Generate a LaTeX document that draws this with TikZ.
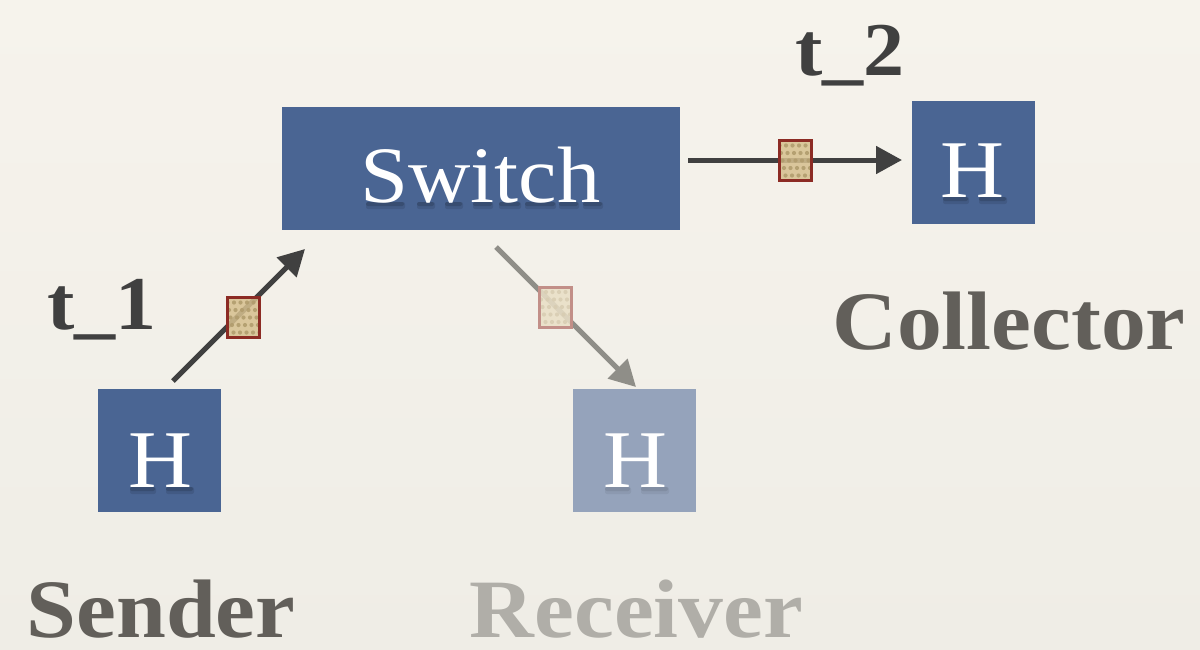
\documentclass[tikz,border=0pt]{standalone}
\usepackage{fontspec}
\setmainfont[FakeStretch=1.08]{Liberation Serif}
\usetikzlibrary{arrows.meta}
\definecolor{bgtop}{HTML}{F6F3EC}
\definecolor{bgbot}{HTML}{EFEDE6}
\definecolor{boxblue}{HTML}{4A6593}
\definecolor{boxfade}{HTML}{95A3BB}
\definecolor{ink}{HTML}{404040}
\definecolor{inkfade}{HTML}{8F8E88}
\definecolor{labelgrey}{HTML}{625F5A}
\definecolor{labelfade}{HTML}{B0AEA8}
\definecolor{pktfill}{HTML}{D6C08F}
\definecolor{pktdot}{HTML}{B09B6C}
\definecolor{pktline}{HTML}{8C2B24}
\definecolor{pktfillf}{HTML}{E9DFC6}
\definecolor{pktdotf}{HTML}{D8CDB2}
\definecolor{pktlinef}{HTML}{C28F88}
\tikzset{
  x=1pt,y=-1pt,
  hostbox/.style={draw=none,fill=#1,inner sep=0pt,outer sep=0pt},
  hostbox/.default=boxblue,
  boxtext/.style={anchor=base,inner sep=0pt,text=white,font=\fontsize{82}{82}\selectfont},
  softshadow/.style={fill=black,opacity=#1,rounded corners=2pt},
  softshadow/.default=.13,
  rolelabel/.style={anchor=base,inner sep=0pt,font=\fontsize{83}{83}\selectfont\bfseries,text=labelgrey},
  timelabel/.style={anchor=base,inner sep=0pt,font=\fontsize{76}{76}\selectfont\bfseries,text=ink},
  flow/.style={draw=ink,line width=5pt,-{Triangle[length=26pt,width=27pt]}},
  flowfade/.style={flow,draw=inkfade},
  packet/.style n args={3}{draw=#3,line width=3pt,fill=#1,fill opacity=.86,
    minimum width=32pt,minimum height=40pt,inner sep=0pt,outer sep=0pt,
    path picture={
      \foreach \i in {-2,-1,0,1,2}\foreach \j in {-2,...,2}{
        \fill[#2] ([shift={(\i*6.5+\j*1.5,\j*7.5)}]path picture bounding box.center) circle (2.1pt);}
    }},
}
\begin{document}
\begin{tikzpicture}
\useasboundingbox (0,0) rectangle (1200,649);
\shade[top color=bgtop,bottom color=bgbot] (0,0) rectangle (1200,649);
% hosts and switch
\node[hostbox,minimum width=398pt,minimum height=123pt] (switch) at (481,168.5) {};
\node[hostbox,minimum width=123pt,minimum height=123pt] (sender) at (159.5,450.5) {};
\node[hostbox=boxfade,minimum width=123pt,minimum height=123pt] (receiver) at (634.5,450.5) {};
\node[hostbox,minimum width=123pt,minimum height=123pt] (collector) at (973.5,162.5) {};
% soft shadows under the letters
\foreach \a/\b in {365/402,416/432,444/460,472/490,498/518,524/553,558/576,582/600}{
  \fill[softshadow=.10] (\a+1,202) rectangle (\b+3,209);
  \fill[softshadow=.14] (\a+1,202) rectangle (\b+2,206);
}
\foreach \a/\b in {942/966,978/1004}{
  \fill[softshadow=.10] (\a+1,197) rectangle (\b+3,204);
  \fill[softshadow=.14] (\a+1,197) rectangle (\b+2,201);
}
\foreach \a/\b in {129/153,165/191}{
  \fill[softshadow=.10] (\a+1,487) rectangle (\b+3,494);
  \fill[softshadow=.14] (\a+1,487) rectangle (\b+2,491);
}
\foreach \a/\b in {604/628,640/666}{
  \fill[softshadow=.06] (\a+1,487) rectangle (\b+3,494);
  \fill[softshadow=.08] (\a+1,487) rectangle (\b+2,491);
}
% box texts
\node[boxtext] (switchtx) at (480.5,202) {\fontsize{80}{80}\selectfont Switch};
\node[boxtext] (hatx) at (160,487) {H};
\node[boxtext] (hbtx) at (635,487) {H};
\node[boxtext] (hctx) at (972,197) {H};
% connector ends
\coordinate (a1) at (173,381);
\coordinate (a2) at (305,249);
\coordinate (b1) at (496,247);
\coordinate (b2) at (636,387);
\coordinate (c1) at (688,160);
\coordinate (c2) at (902,160);
\draw[flow] (a1) -- (a2);
\draw[flowfade] (b1) -- (b2);
\draw[flow] (c1) -- (c2);
% packets
\node[packet={pktfill}{pktdot}{pktline}] (p1) at (243.5,317.5) {};
\node[packet={pktfillf}{pktdotf}{pktlinef}] (p2) at (555.5,307) {};
\node[packet={pktfill}{pktdot}{pktline}] (p3) at (795.5,160.5) {};
% labels
\node[timelabel] (t1) at (102,329) {t\_1};
\node[timelabel] (t2) at (850,75) {t\_2};
\node[rolelabel] (lsender) at (161,637) {Sender};
\node[rolelabel,text=labelfade] (lreceiver) at (636.5,637) {Receiver};
\node[rolelabel] (lcollector) at (1009,349) {Collector};
\end{tikzpicture}
\end{document}
